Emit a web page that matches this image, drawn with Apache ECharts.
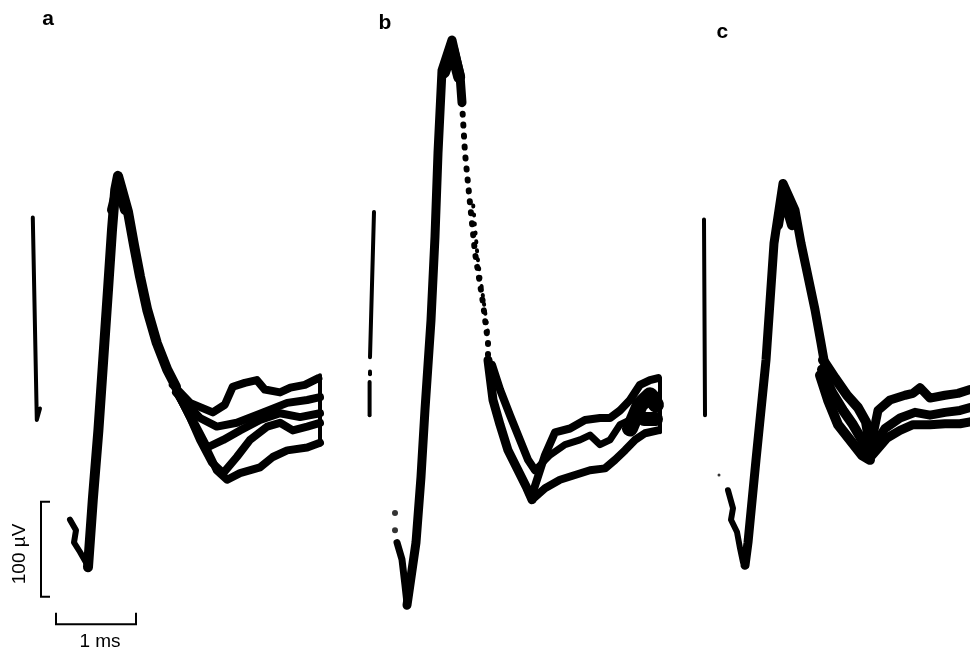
<!DOCTYPE html>
<html><head><meta charset="utf-8">
<script src="https://cdn.jsdelivr.net/npm/echarts@6/dist/echarts.min.js"></script>
<style>html,body{margin:0;padding:0;background:#fff}#c{width:970px;height:649px}</style>
</head><body><div id="c"></div>
<script>
// units: x = time (ms), y = potential (µV)
const panelLabels = ['a', 'b', 'c'];
const scaleLabels = ['100 µV', '1 ms'];

// ---- panel a ----
const aArtifact = [[0.41,192],[0.46,-21],[0.5,-9]];
const aRise = [[1.1,-176],[1.16,-105],[1.23,-32],[1.29,42],[1.35,116],[1.4,179],[1.44,221],[1.475,236],[1.525,221],[1.6,198],[1.675,163],[1.75,130],[1.84,95],[1.96,60],[2.09,32],[2.2,14]];
const aPeak = [[1.4,200],[1.475,226],[1.5625,200]];
const aFoot = [[0.875,-126],[0.95,-137],[0.925,-150],[1.0,-160],[1.075,-171]];
const aTail1 = [[2.16,16],[2.375,-3],[2.66,-13],[2.81,-5],[2.91,14],[3.06,18],[3.21,21],[3.31,11],[3.5,8],[3.63,13],[3.81,16],[3.98,23]];
const aTail2 = [[2.2,8],[2.5,-19],[2.71,-28],[2.96,-24],[3.29,-13],[3.59,-3],[3.84,0],[4.0,3]];
const aTail3 = [[2.23,5],[2.44,-26],[2.59,-50],[2.79,-42],[3.0,-32],[3.25,-21],[3.5,-14],[3.75,-18],[4.0,-14]];
const aTail4 = [[2.2,11],[2.41,-24],[2.59,-53],[2.71,-74],[2.84,-84],[3.0,-77],[3.25,-71],[3.41,-60],[3.59,-53],[3.84,-50],[4.0,-45]];
const aTail5 = [[2.25,3],[2.375,-18],[2.5,-42],[2.65,-66],[2.79,-77],[2.96,-60],[3.125,-42],[3.34,-28],[3.5,-24],[3.66,-32],[3.84,-28],[4.0,-24]];
const aEnd = [[4.0,26],[4.0,-47]];

// ---- panel b ----
const bArtifact = [[0.425,198],[0.375,45]];
const bArtifactDot = [[0.375,30],[0.375,27]];
const bArtifact2 = [[0.37,19],[0.37,-16]];
const bRise = [[0.8375,-216],[0.95,-150],[1.0125,-81],[1.0625,-10],[1.1375,84],[1.1875,172],[1.225,260],[1.275,347],[1.4,379],[1.5,342],[1.525,313]];
const bPeak = [[1.3,345],[1.4,370],[1.49,340]];
const bFallDots = [[1.525,313],[1.5625,260],[1.625,207],[1.6875,155],[1.7875,102],[1.85,60],[1.85,45]];
const bFallDots2 = [[1.66,210],[1.72,150],[1.81,95],[1.86,65]];
const bFootDots = [[0.6875,-119],[0.6875,-137]];
const bFoot = [[0.7125,-150],[0.775,-168],[0.8125,-195],[0.8375,-214]];
const bFallA = [[1.85,42],[1.9125,0],[2.0,-26],[2.1,-53],[2.225,-74],[2.3375,-93],[2.4,-105]];
const bFallB = [[1.9,37],[2.0,11],[2.125,-16],[2.25,-42],[2.35,-63],[2.4375,-74]];
const bTailC = [[2.4,-100],[2.5625,-58],[2.6875,-34],[2.875,-30],[3.0625,-21],[3.25,-19],[3.375,-19],[3.5,-11],[3.625,0],[3.75,16],[3.875,21],[3.975,23]];
const bTailD = [[2.4,-105],[2.5625,-93],[2.75,-84],[2.9375,-79],[3.125,-74],[3.3125,-72],[3.4375,-63],[3.5625,-53],[3.6875,-42],[3.8125,-35],[3.975,-32]];
const bTailE = [[2.4375,-74],[2.625,-58],[2.8125,-47],[3.0,-42],[3.125,-37],[3.25,-47],[3.375,-42],[3.5,-26],[3.625,-21],[3.75,-11],[3.875,0],[3.975,5]];
const bTailF = [[3.625,-30],[3.75,-5],[3.875,5],[3.95,-5]];
const bTailG = [[3.8,-20],[3.95,-20]];
const bEnd = [[4.0,23],[4.0,-34]];

// ---- panel c ----
const cArtifact = [[0.3,190],[0.3125,-16]];
const cFoot = [[0.6,-95],[0.6625,-114],[0.6375,-126],[0.7125,-139],[0.75,-156],[0.7875,-171]];
const cFootDot = [[0.4875,-79]];
const cRise = [[0.8125,-174],[0.85,-150],[0.95,-63],[1.075,42],[1.175,165],[1.2875,228],[1.4375,200],[1.5125,165],[1.6,130],[1.6875,95],[1.7625,60],[1.8,42]];
const cPeak = [[1.225,184],[1.2875,216],[1.4,184]];
const cBand1 = [[1.7875,42],[1.9375,23],[2.0875,5],[2.225,-8],[2.325,-23],[2.375,-47]];
const cBand2 = [[1.75,26],[1.85,0],[1.975,-26],[2.125,-42],[2.275,-58],[2.375,-63]];
const cBand3 = [[1.775,32],[1.9,8],[2.0375,-11],[2.1625,-26],[2.2875,-44],[2.375,-58]];
const cTailU = [[2.4,-42],[2.475,-11],[2.625,0],[2.8125,5],[2.9125,7],[3.0,13],[3.125,2],[3.3125,5],[3.475,7],[3.625,11]];
const cTailM = [[2.4,-51],[2.5625,-30],[2.75,-19],[2.9375,-13],[3.125,-16],[3.3125,-13],[3.5,-11],[3.625,-8]];
const cTailL = [[2.375,-61],[2.5875,-40],[2.75,-32],[2.9125,-26],[3.125,-26],[3.3125,-25],[3.5,-25],[3.625,-23]];

// ---- scale bars (drawn in panel a) ----
const scaleBarV = [[0.625,-107],[0.5125,-107],[0.5125,-207],[0.625,-207]];
const scaleBarH = [[0.7,-224],[0.7,-236],[1.7,-236],[1.7,-224]];

const chart = echarts.init(document.getElementById('c'), null, {renderer: 'canvas'});

function ln(g, data, w, extra) {
  return Object.assign({
    type: 'line', xAxisIndex: g, yAxisIndex: g, data: data, symbol: 'none',
    silent: true, animation: false, clip: false, z: 2,
    lineStyle: {color: '#000', width: w, cap: 'round', join: 'round'}
  }, extra || {});
}
function dots(g, data, size) {
  return {type: 'scatter', xAxisIndex: g, yAxisIndex: g, data: data, symbol: 'circle',
    symbolSize: size, itemStyle: {color: '#000'}, silent: true, animation: false};
}
function txt(g, point, text, font, bold, rot) {
  return {type: 'scatter', xAxisIndex: g, yAxisIndex: g, data: [point], symbolSize: 1,
    itemStyle: {color: '#fff', opacity: 1}, silent: true, animation: false, z: 5,
    label: {show: true, position: 'inside', formatter: text, color: '#000', opacity: 1,
      textBorderWidth: 0, fontSize: font, fontWeight: bold ? 'bold' : 'normal',
      fontFamily: 'Liberation Sans, Arial, sans-serif', rotate: rot || 0}};
}

const yMin = -260, yMax = 420;
const grids = [
  {left: 0, top: 1, width: 340, height: 646},
  {left: 340, top: 1, width: 340, height: 646},
  {left: 680, top: 1, width: 290, height: 646}
];
const xMax = [4.25, 4.25, 3.625];

const series = [
  // a
  ln(0, aArtifact, 4),
  ln(0, aRise, 10),
  ln(0, aPeak, 10),
  ln(0, aFoot, 6),
  ln(0, aTail1, 8), ln(0, aTail2, 8), ln(0, aTail3, 8), ln(0, aTail4, 8), ln(0, aTail5, 8),
  ln(0, aEnd, 4),
  ln(0, scaleBarV, 2, {lineStyle: {color: '#000', width: 2, join: 'miter'}}),
  ln(0, scaleBarH, 2, {lineStyle: {color: '#000', width: 2, join: 'miter'}}),
  txt(0, [0.6, 401], panelLabels[0], 21, true),
  txt(0, [0.25, -162], scaleLabels[0], 19, false, 90),
  txt(0, [1.25, -254], scaleLabels[1], 19, false),
  // b
  ln(1, bArtifact, 4), ln(1, bArtifactDot, 4), ln(1, bArtifact2, 4),
  ln(1, bRise, 9),
  ln(1, bPeak, 12),
  ln(1, bFallDots, 6, {lineStyle: {color: '#000', width: 6, cap: 'round', type: [1, 10]}}),
  ln(1, bFallDots2, 4, {lineStyle: {color: '#000', width: 4, cap: 'round', type: [1, 8], dashOffset: 4}}),
  dots(1, bFootDots, 6),
  ln(1, bFoot, 7),
  ln(1, bFallA, 9), ln(1, bFallB, 8),
  ln(1, bTailC, 8), ln(1, bTailD, 8), ln(1, bTailE, 7), ln(1, bTailF, 16), ln(1, bTailG, 14),
  ln(1, bEnd, 4),
  txt(1, [0.5625, 397], panelLabels[1], 21, true),
  // c
  ln(2, cArtifact, 4),
  ln(2, cFoot, 6),
  dots(2, cFootDot, 3),
  ln(2, cRise, 9),
  ln(2, cPeak, 10),
  ln(2, cBand1, 10), ln(2, cBand2, 10), ln(2, cBand3, 10),
  ln(2, cTailU, 9), ln(2, cTailM, 9), ln(2, cTailL, 9),
  txt(2, [0.53, 387], panelLabels[2], 21, true)
];

chart.setOption({
  backgroundColor: '#fff',
  animation: false,
  grid: grids,
  xAxis: grids.map((g, i) => ({type: 'value', gridIndex: i, min: 0, max: xMax[i], show: false})),
  yAxis: grids.map((g, i) => ({type: 'value', gridIndex: i, min: yMin, max: yMax, show: false})),
  series: series
});
</script>
</body></html>
